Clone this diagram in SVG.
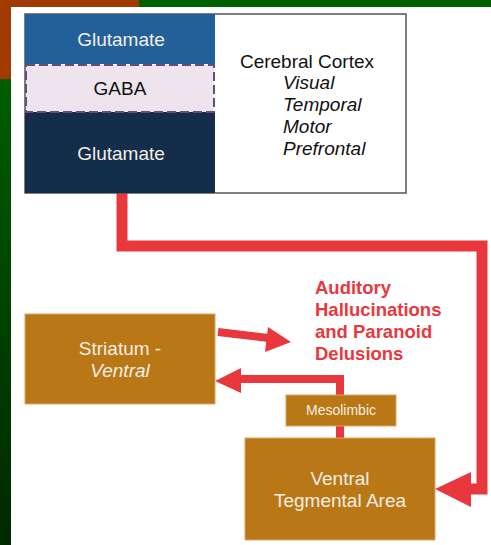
<svg xmlns="http://www.w3.org/2000/svg" width="491" height="545" viewBox="0 0 491 545">
<defs>
<linearGradient id="gleft" x1="0" y1="0" x2="0" y2="1">
<stop offset="0" stop-color="#005e00"/>
<stop offset="1" stop-color="#002800"/>
</linearGradient>
</defs>
<style>
text{font-family:"Liberation Sans",Arial,sans-serif;}
.wt{fill:#f4efe6;font-size:19px;text-anchor:middle;}
.bk{fill:#111;font-size:19px;}
.it{font-style:italic;}
.red{fill:#e8383d;font-size:18.5px;font-weight:bold;}
.box{fill:#b97716;stroke:#d9a560;stroke-width:1;}
.wire{fill:none;stroke:#e8383d;stroke-linejoin:miter;}
.head{fill:#e8383d;}
</style>
<g id="background">
<rect x="0" y="0" width="491" height="545" fill="#ffffff"/>
<rect x="0" y="0" width="139" height="79" fill="#a03a00"/>
<rect x="139" y="0" width="352" height="7" fill="#006000"/>
<rect x="0" y="79" width="11" height="466" fill="url(#gleft)"/>
<rect x="11" y="7" width="480" height="538" fill="#ffffff"/>
</g>
<g id="connectors">
<polyline class="wire" stroke-width="11" points="122,193 122,246 482,246 482,489 470,489"/>
<polygon class="head" points="435,489 471,472 471,507"/>
<polyline class="wire" stroke-width="8" points="340,438 340,379 240,379"/>
<polygon class="head" points="215,381 241,368 241,393"/>
<line class="wire" stroke-width="8" x1="218" y1="332" x2="268" y2="338"/>
<polygon class="head" points="291,342 268,327 265,352"/>
</g>
<g id="cortex">
<rect x="25" y="14" width="381" height="179" fill="#ffffff" stroke="#555" stroke-width="1.5"/>
<rect x="25" y="14" width="190" height="50" fill="#23609a"/>
<rect x="25" y="112" width="190" height="81" fill="#132d4a"/>
<rect x="26" y="65" width="188" height="47" fill="#ede4ee" stroke="#6b4a7a" stroke-width="2" stroke-dasharray="9,4"/>
<text class="wt" x="121" y="46">Glutamate</text>
<text class="bk" x="120" y="95" text-anchor="middle">GABA</text>
<text class="wt" x="121" y="160">Glutamate</text>
<text class="bk" x="307" y="68" text-anchor="middle">Cerebral Cortex</text>
<text class="bk it" x="283" y="89">Visual</text>
<text class="bk it" x="283" y="111">Temporal</text>
<text class="bk it" x="283" y="133">Motor</text>
<text class="bk it" x="283" y="155">Prefrontal</text>
</g>
<g id="symptoms">
<text class="red" x="315" y="294">Auditory</text>
<text class="red" x="315" y="316">Hallucinations</text>
<text class="red" x="315" y="338">and Paranoid</text>
<text class="red" x="315" y="360">Delusions</text>
</g>
<g id="striatum">
<rect class="box" x="25" y="314" width="190" height="90"/>
<text class="wt" x="120" y="355">Striatum -</text>
<text class="wt it" x="120" y="377">Ventral</text>
</g>
<g id="mesolimbic">
<rect class="box" x="286" y="395" width="110" height="31"/>
<text class="wt" x="341" y="415" style="font-size:14px">Mesolimbic</text>
</g>
<g id="vta">
<rect class="box" x="245" y="438" width="190" height="102"/>
<text class="wt" x="340" y="485">Ventral</text>
<text class="wt" x="340" y="507">Tegmental Area</text>
</g>
</svg>
